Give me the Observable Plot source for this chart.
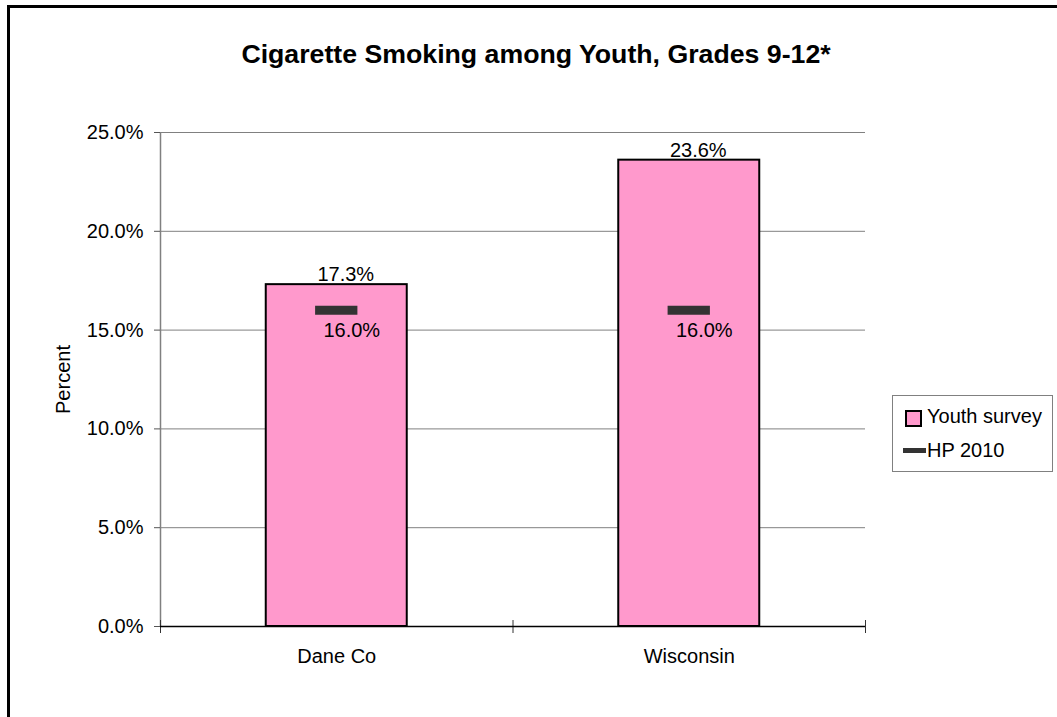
<!DOCTYPE html>
<html>
<head>
<meta charset="utf-8">
<script src="https://cdn.jsdelivr.net/npm/d3@7"></script>
<script src="https://cdn.jsdelivr.net/npm/@observablehq/plot@0.6"></script>
<style>
  html, body { margin: 0; padding: 0; background: #fff; }
  #page { position: relative; width: 1057px; height: 717px; overflow: hidden; background: #fff;
          font-family: "Liberation Sans", Arial, sans-serif; color: #000; }
  #frame { position: absolute; left: 7px; top: 5px; width: 1200px; height: 900px;
           border: 3px solid #000; box-sizing: border-box; }
  #title { position: absolute; left: 0; top: 41px; width: 1072px; text-align: center;
           font-weight: bold; font-size: 26.7px; line-height: 26px; }
  #chart { position: absolute; left: 0; top: 90px; }
  #legend { position: absolute; left: 892px; top: 395px; width: 161px; height: 77px;
            border: 1px solid #808080; box-sizing: border-box; background: #fff; font-size: 20px; }
  #legend .txt { position: absolute; left: 34px; line-height: 20px; white-space: nowrap; }
  #legend .swatch { position: absolute; left: 12px; top: 14px; width: 17px; height: 17px;
                    box-sizing: border-box; border: 2px solid #000; }
  #legend .line { position: absolute; left: 10px; top: 52px; width: 23px; height: 5px; background: #333; }
</style>
</head>
<body>
<div id="page">
  <div id="frame"></div>
  <div id="title">Cigarette Smoking among Youth, Grades 9-12*</div>
  <div id="chart"></div>
  <div id="legend"></div>
</div>
<script>
// Survey results by area, with the Healthy People 2010 target
const categories = ["Dane Co", "Wisconsin"];
const youthSurvey = [17.3, 23.6];
const hp2010 = [16.0, 16.0];
const yTicks = [0, 5, 10, 15, 20, 25];
const seriesNames = ["Youth survey", "HP 2010"];

const barFill = "#FF99CC";
const targetColor = "#333333";
const fmt = v => v.toFixed(1) + "%";

const rows = categories.map((name, i) => ({name, i, value: youthSurvey[i], target: hp2010[i]}));
const boundaries = d3.range(categories.length + 1);

const chart = Plot.plot({
  width: 1057,
  height: 600,
  marginLeft: 160,
  marginRight: 192,
  marginTop: 42,
  marginBottom: 64,
  style: {fontFamily: "'Liberation Sans', Arial, sans-serif", fontSize: "20px", color: "#000", background: "transparent"},
  x: {domain: [0, categories.length]},
  y: {domain: [0, 25]},
  marks: [
    Plot.gridY(yTicks.slice(1), {stroke: "#808080", strokeOpacity: 1, strokeWidth: 1}),
    Plot.ruleX([0], {stroke: "#808080", strokeWidth: 1.5}),
    Plot.axisY({
      ticks: yTicks, tickFormat: fmt, tickSize: 6, tickPadding: 11,
      stroke: "#555", label: "Percent", labelAnchor: "center", labelOffset: 105, labelArrow: "none"
    }),
    // boundary ticks crossing the category axis
    Plot.ruleX(boundaries, {x: d => d, y1: 0, y2: 0, insetTop: -6, insetBottom: -7, stroke: "#333", strokeWidth: 1}),
    Plot.axisX({
      ticks: categories.map((_, i) => i + 0.5), tickSize: 0, tickPadding: 22,
      tickFormat: t => categories[Math.floor(t)], label: null
    }),
    Plot.rect(rows, {
      x1: d => d.i + 0.3, x2: d => d.i + 0.7, y1: 0, y2: "value",
      fill: barFill, stroke: "#000", strokeWidth: 2
    }),
    Plot.ruleY([0], {stroke: "#000", strokeWidth: 1.5}),
    Plot.text(rows, {
      x: d => d.i + 0.5, y: "value", text: d => fmt(d.value),
      dx: 9, dy: -10, lineAnchor: "middle", fill: "#000"
    }),
    Plot.ruleY(rows, {
      y: "target", x1: d => d.i + 0.44, x2: d => d.i + 0.56,
      stroke: targetColor, strokeWidth: 9
    }),
    Plot.text(rows, {
      x: d => d.i + 0.5, y: "target", text: d => fmt(d.target),
      dx: 15, dy: 20, lineAnchor: "middle", fill: "#000"
    })
  ]
});
document.getElementById("chart").appendChild(chart);

// Legend
const legend = document.getElementById("legend");
const sw = document.createElement("div");
sw.className = "swatch"; sw.style.background = barFill;
legend.appendChild(sw);
const t1 = document.createElement("div");
t1.className = "txt"; t1.style.top = "10px"; t1.textContent = seriesNames[0];
legend.appendChild(t1);
const ln = document.createElement("div");
ln.className = "line"; ln.style.background = targetColor;
legend.appendChild(ln);
const t2 = document.createElement("div");
t2.className = "txt"; t2.style.top = "44px"; t2.textContent = seriesNames[1];
legend.appendChild(t2);
</script>
</body>
</html>
